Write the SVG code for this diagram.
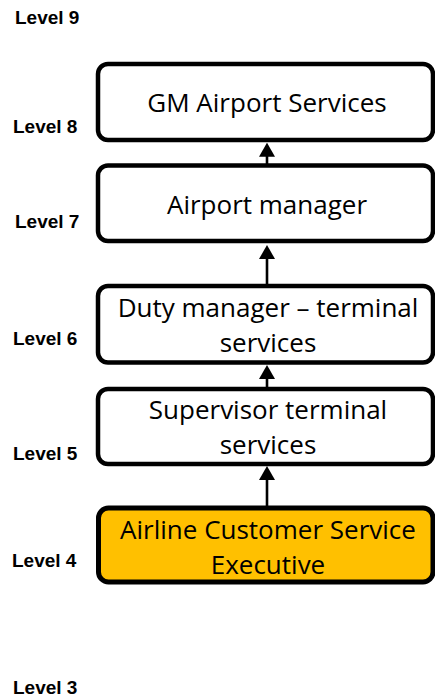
<svg xmlns="http://www.w3.org/2000/svg" width="435" height="700" viewBox="0 0 435 700">
<style>
.box{fill:#ffffff;stroke:#000000;stroke-width:4.5}
.hl{fill:#FFC000;stroke:#000000;stroke-width:5}
.t{font-family:"Open Sans","Liberation Sans",sans-serif;font-size:26px;fill:#000000;text-anchor:middle}
.lv{font-family:"Liberation Sans",Arial,sans-serif;font-size:19px;font-weight:bold;fill:#000000}
.c{stroke:#000000;stroke-width:2.6;fill:none}
</style>
<defs>
<marker id="ah" viewBox="0 0 14 16" refX="8" refY="8" markerWidth="14" markerHeight="16" markerUnits="userSpaceOnUse" orient="auto">
<path d="M0,0 L14,8 L0,16 z" fill="#000000"/>
</marker>
</defs>
<rect width="435" height="700" fill="#ffffff"/>
<g id="levels">
<text class="lv" x="15" y="24">Level 9</text>
<text class="lv" x="13" y="133">Level 8</text>
<text class="lv" x="15" y="228">Level 7</text>
<text class="lv" x="13" y="345">Level 6</text>
<text class="lv" x="13" y="460">Level 5</text>
<text class="lv" x="12" y="567">Level 4</text>
<text class="lv" x="13" y="694">Level 3</text>
</g>
<g id="connectors">
<line class="c" x1="267" y1="165.5" x2="267" y2="148.7" marker-end="url(#ah)"/>
<line class="c" x1="267" y1="286" x2="267" y2="251" marker-end="url(#ah)"/>
<line class="c" x1="267" y1="389" x2="267" y2="371" marker-end="url(#ah)"/>
<line class="c" x1="267" y1="508" x2="267" y2="472" marker-end="url(#ah)"/>
</g>
<g id="gm">
<rect class="box" x="98" y="64" width="335" height="76" rx="10"/>
<text class="t" x="267" y="112">GM Airport Services</text>
</g>
<g id="airport-manager">
<rect class="box" x="98" y="165.5" width="335" height="75.5" rx="10"/>
<text class="t" x="267" y="214">Airport manager</text>
</g>
<g id="duty-manager">
<rect class="box" x="98" y="286" width="335" height="76.5" rx="10"/>
<text class="t" x="268" y="317">Duty manager – terminal</text>
<text class="t" x="268" y="352">services</text>
</g>
<g id="supervisor">
<rect class="box" x="98" y="389" width="335" height="75" rx="10"/>
<text class="t" x="268" y="418.5">Supervisor terminal</text>
<text class="t" x="268" y="453.5">services</text>
</g>
<g id="executive">
<rect class="hl" x="98.5" y="508" width="334.5" height="74" rx="10"/>
<text class="t" x="268" y="538.5">Airline Customer Service</text>
<text class="t" x="268" y="573.5">Executive</text>
</g>
</svg>
